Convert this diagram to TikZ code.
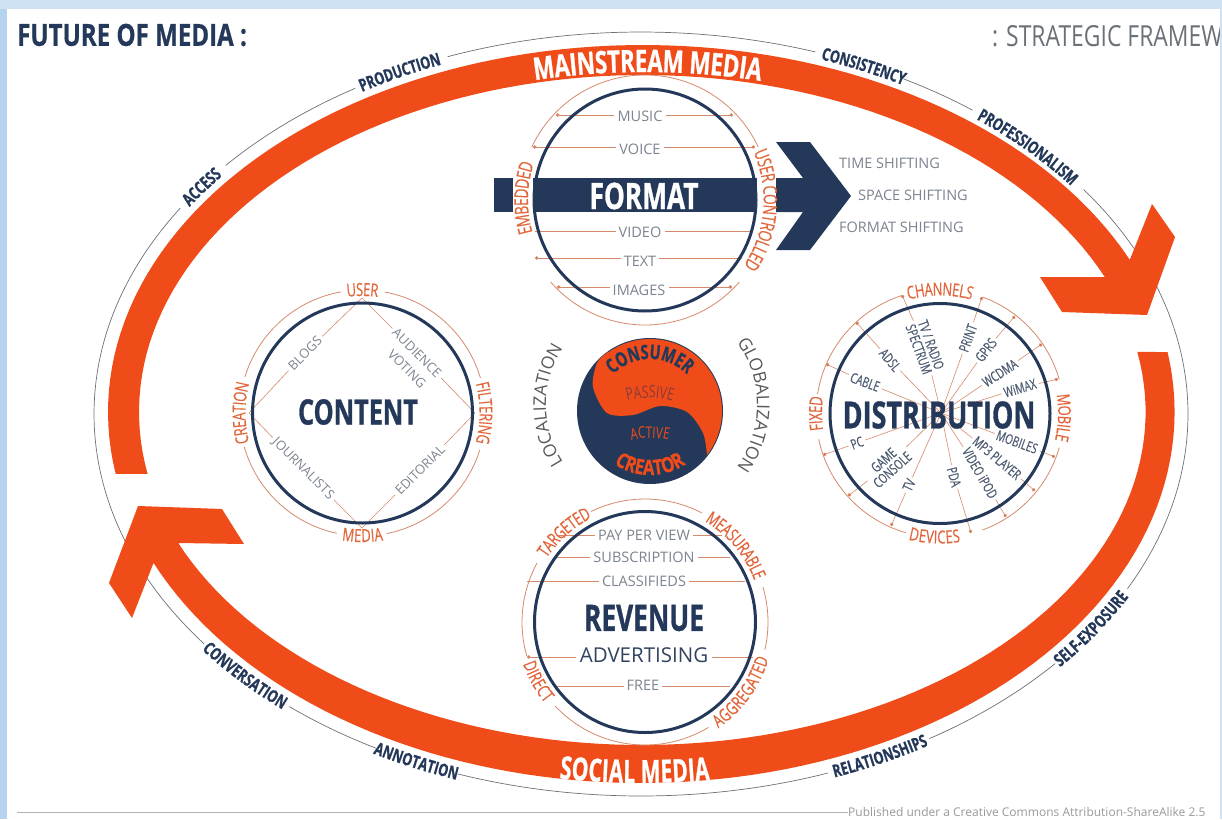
\documentclass[tikz,border=0pt]{standalone}
\usepackage{fontspec}
\usetikzlibrary{decorations.text,arrows.meta}
\setmainfont{Open Sans}
\newfontfamily\fcond[FakeStretch=0.72,BoldFeatures={FakeBold=0.8}]{Open Sans}
\newfontfamily\fmed[FakeStretch=0.72,FakeBold=0.35]{Open Sans}
\newfontfamily\fwide[FakeStretch=0.79,BoldFeatures={FakeBold=0.6}]{Open Sans}
\newfontfamily\fnarrow[FakeStretch=0.65,BoldFeatures={FakeBold=0.8}]{Open Sans}
\definecolor{cNavy}{HTML}{24385A}
\definecolor{cBand}{HTML}{F04C19}
\definecolor{cOr}{HTML}{E2663B}
\definecolor{cTan}{HTML}{D68A6C}
\definecolor{cGray}{HTML}{7C8490}
\definecolor{cSpoke}{HTML}{4F5D73}
\definecolor{cRim}{HTML}{6B7178}
\definecolor{cSkyA}{HTML}{CFE2F3}
\definecolor{cSkyB}{HTML}{B5D2EE}
\definecolor{cPass}{HTML}{8A3B3A}
\newcommand\fOuter{\fcond\bfseries\fontsize{17.5}{17.5}\selectfont\color{cNavy}}
\newcommand\fLab{\fmed\fontsize{18}{18}\selectfont\color{cOr}}
\newcommand\fLabB{\fmed\fontsize{19}{19}\selectfont\color{cOr}}
\newcommand\fBand{\fcond\bfseries\fontsize{31}{31}\selectfont\color{white}}
\newcommand\fBandS{\fnarrow\bfseries\fontsize{32}{32}\selectfont\color{white}}
\newcommand\fCons{\fcond\bfseries\fontsize{20}{20}\selectfont\color{cNavy}}
\newcommand\fCrea{\fwide\bfseries\fontsize{21}{21}\selectfont\color{cBand}}
\newcommand\fPass{\fcond\fontsize{17}{17}\selectfont\color{cPass}}
\newcommand\fActv{\fcond\fontsize{16}{16}\selectfont\color{cBand}}
\newcommand\fGlob{\normalfont\fontsize{17.5}{17.5}\selectfont\color{black!65}}
% \curvecw / \curveccw : {cx}{cy}{rx}{ry}{centre angle}{half span}{raise}{font}{text}
\newcommand\curvecw[9]{\path[decorate,decoration={text along path,text align=center,raise=#7,text={|#8|#9}}]
  ({#1+#3*cos((#5)-(#6))},{#2+#4*sin((#5)-(#6))}) arc[start angle={(#5)-(#6)},end angle={(#5)+(#6)},x radius=#3,y radius=#4];}
\newcommand\curveccw[9]{\path[decorate,decoration={text along path,text align=center,raise=#7,text={|#8|#9}}]
  ({#1+#3*cos((#5)+(#6))},{#2+#4*sin((#5)+(#6))}) arc[start angle={(#5)+(#6)},end angle={(#5)-(#6)},x radius=#3,y radius=#4];}
% \ringarc[style]{cx}{cy}{rx}{ry}{from}{to}
\newcommand\ringarc[7][]{\draw[#1] ({#2+#4*cos(#6)},{#3+#5*sin(#6)}) arc[start angle=#6,end angle=#7,x radius=#4,y radius=#5];}
\tikzset{
  x=1pt,y=-1pt,
  rimline/.style={draw=cRim,line width=.7pt},
  tanline/.style={draw=cTan,line width=.8pt},
  darkring/.style={draw=cNavy,line width=3pt},
  dotted end/.style={-{Circle[length=3.5pt,fill=cOr]}},
  grayl/.style={font=\normalfont\fontsize{14.5}{14.5}\selectfont,text=cGray,inner sep=3pt},
  diag/.style={font=\normalfont\fontsize{13}{13}\selectfont,text=cGray,inner sep=3pt},
  spokel/.style={font=\fmed\fontsize{14}{13}\selectfont,text=cSpoke,inner sep=2.5pt,align=center},
  hugeb/.style={font=\fcond\bfseries\fontsize{36.5}{36.5}\selectfont,text=cNavy,inner sep=0pt},
}
% horizontal line through a label: \hbarlabel{id}{x,y}{xl}{xr}{yline}{text}{end style}
\newcommand\hbarlabel[7]{
  \coordinate (#1L) at (#3,#5);
  \coordinate (#1R) at (#4,#5);
  \node[grayl] (#1) at (#2) {#6};
  \draw[tanline,#7] (#1.west |- #1L) -- (#1L);
  \draw[tanline,#7] (#1.east |- #1R) -- (#1R);
}
\newcommand\spoke[5]{
  \coordinate (o#1) at (#2);
  \node[spokel,rotate=#4] (l#1) at (#3) {#5};
  \draw[tanline,line width=.6pt] (l#1) -- (dhub);
  \draw[tanline,line width=.6pt,dotted end] (l#1) -- (o#1);
}
\begin{document}
\begin{tikzpicture}
\useasboundingbox (0,0) rectangle (1222,819);
\clip (0,0) rectangle (1222,819);
\fill[cSkyA] (0,0) rectangle (1222,819);
\fill[cSkyB] (0,9) rectangle (7,819);
\fill[white] (7,9) rectangle (1220,819);

% thin outer ellipse, broken at its labels
\ringarc[rimline]{641}{414}{547}{382}{143}{212.6}
\ringarc[rimline]{641}{414}{547}{382}{220.6}{238.5}
\ringarc[rimline]{641}{414}{547}{382}{249.3}{288.6}
\ringarc[rimline]{641}{414}{547}{382}{298.7}{307.3}
\ringarc[rimline]{641}{414}{547}{382}{324}{387.2}
\ringarc[rimline]{641}{414}{547}{382}{40.8}{58.2}
\ringarc[rimline]{641}{414}{547}{382}{70}{109.6}
\ringarc[rimline]{641}{414}{547}{382}{119}{130}

% the two great orange arrows
\fill[cBand] plot[domain=170.3:335.5,samples=90] ({643+535*cos(\x)},{412+367*sin(\x)})
  -- (1152,204) -- (1175,237) -- (1147,315) -- (1062,312) -- (1040,277) -- (1105,277)
  -- plot[domain=336.4:169.4,samples=90] ({643+504*cos(\x)},{412+337*sin(\x)}) -- cycle;
\fill[cBand] plot[domain=-9.3:156,samples=90] ({641+533.6*cos(\x)},{412+371*sin(\x)})
  -- (132,618) -- (109,583) -- (138,506) -- (222,509) -- (244,544) -- (178,543)
  -- plot[domain=156.9:-10.4,samples=90] ({641.6+504*cos(\x)},{412+333*sin(\x)}) -- cycle;

\curvecw{645}{412}{519}{351}{-89.7}{20}{-11pt}{\fBand}{MAINSTREAM MEDIA}
\curveccw{641}{412}{519}{352}{90.7}{15}{-19pt}{\fBandS}{SOCIAL MEDIA}

% outer labels
\curvecw{641}{414}{547}{382}{215.3}{20}{-6pt}{\fOuter}{ACCESS}
\curvecw{641}{414}{547}{382}{243}{20}{-6pt}{\fOuter}{PRODUCTION}
\curvecw{641}{414}{547}{382}{294.8}{20}{-6pt}{\fOuter}{CONSISTENCY}
\curvecw{641}{414}{547}{382}{317}{25}{-6pt}{\fOuter}{PROFESSIONALISM}
\curveccw{641}{414}{547}{382}{33.2}{20}{-6pt}{\fOuter}{SELF-EXPOSURE}
\curveccw{641}{414}{547}{382}{63.3}{20}{-6pt}{\fOuter}{RELATIONSHIPS}
\curveccw{641}{414}{547}{382}{115}{20}{-6pt}{\fOuter}{ANNOTATION}
\curveccw{641}{414}{547}{382}{137.7}{20}{-6pt}{\fOuter}{CONVERSATION}

% titles and footer
\node[anchor=west,font=\fwide\bfseries\fontsize{30.5}{30.5}\selectfont,text=cNavy,inner sep=0pt] (title) at (17,35) {FUTURE OF MEDIA :};
\node[anchor=west,font=\fwide\fontsize{29}{29}\selectfont,text=cRim,inner sep=0pt] (subtitle) at (992,36) {: STRATEGIC FRAMEW};
\fill[cSkyA] (1220,0) rectangle (1222,819);
\node[anchor=west,font=\normalfont\fontsize{12}{12}\selectfont,text=black!40,inner sep=0pt] (credit) at (848,812) {Published under a Creative Commons Attribution-ShareAlike 2.5};
\coordinate (ruleL) at (17,812);
\draw[black!30,line width=.8pt] (ruleL) -- (credit.west);

% ---------- FORMAT ----------
\ringarc[tanline]{645}{200}{125}{125}{-25}{-155}
\ringarc[tanline]{645}{200}{125}{125}{41}{139}
\hbarlabel{music}{640,116}{556}{733}{115}{MUSIC}{dotted end}
\hbarlabel{voice}{640,149}{533}{755}{147}{VOICE}{dotted end}
\hbarlabel{video}{640,232}{535}{752}{231}{VIDEO}{}
\hbarlabel{text}{640,261}{535}{742}{258}{TEXT}{dotted end}
\hbarlabel{images}{639,290}{557}{732}{287}{IMAGES}{dotted end}
\fill[cNavy] (494,178) rectangle (513,212);
\fill[cNavy] (533,178) rectangle (757,212);
\fill[cNavy] (776,178) -- (803,178) -- (776,142) -- (810,142) -- (851,196) -- (810,250) -- (776,250) -- (803,212) -- (776,212) -- cycle;
\draw[darkring] (645,200) circle[radius=111];
\node[hugeb,text=white] (format) at (644,196) {FORMAT};
\curvecw{645}{200}{125}{125}{181}{70}{-8pt}{\fLabB}{EMBEDDED}
\curvecw{645}{200}{125}{125}{5}{70}{-6.5pt}{\fLabB}{USER CONTROLLED}
\node[grayl,anchor=west,inner sep=0pt] (tshift) at (839,163) {TIME SHIFTING};
\node[grayl,anchor=west,inner sep=0pt] (sshift) at (858,195) {SPACE SHIFTING};
\node[grayl,anchor=west,inner sep=0pt] (fshift) at (839,227) {FORMAT SHIFTING};

% ---------- CONTENT ----------
\ringarc[tanline]{362.5}{413}{123}{123}{-79.6}{-16.6}
\ringarc[tanline]{362.5}{413}{123}{123}{17.5}{78.7}
\ringarc[tanline]{362.5}{413}{123}{123}{102}{164}
\ringarc[tanline]{362.5}{413}{123}{123}{197}{260}
\coordinate (ctop) at (362,298);
\coordinate (cright) at (475,413);
\coordinate (cbot) at (362,528);
\coordinate (cleft) at (249,413);
\node[diag,rotate=45] (blogs) at (305,353) {BLOGS};
\node[diag,rotate=-45] (audience) at (417,353) {AUDIENCE};
\node[diag,rotate=-45] (voting) at (407,369) {VOTING};
\node[diag,rotate=-45] (journal) at (303,469) {JOURNALISTS};
\node[diag,rotate=45] (editorial) at (420,470) {EDITORIAL};
\draw[tanline,line width=.6pt] (ctop) -- (blogs) -- (cleft);
\draw[tanline,line width=.6pt] (ctop) -- (audience) -- (cright);
\draw[tanline,line width=.6pt] (cleft) -- (journal) -- (cbot);
\draw[tanline,line width=.6pt] (cright) -- (editorial) -- (cbot);
\draw[darkring] (362.5,413) circle[radius=110];
\node[hugeb,font=\fcond\bfseries\fontsize{35}{35}\selectfont] (content) at (358,412) {CONTENT};
\curvecw{362.5}{413}{123}{123}{-90}{70}{-6pt}{\fLab}{USER}
\curveccw{362.5}{413}{123}{123}{90}{70}{-6pt}{\fLab}{MEDIA}
\curvecw{362.5}{413}{123}{123}{180}{70}{-6pt}{\fLab}{CREATION}
\curvecw{362.5}{413}{123}{123}{0}{70}{-6pt}{\fLab}{FILTERING}

% ---------- centre disc ----------
\fill[cNavy] (650,411) circle[radius=73];
\fill[cBand] ({650+72*cos(37.7)},{411+72*sin(37.7)}) arc[start angle=37.7,end angle=-125,x radius=72,y radius=72]
  -- plot[smooth] coordinates {(608,352) (597,363) (593,387) (607,413) (633,415) (660,406) (687,412) (703,433) (707,455)} -- cycle;
\curvecw{650}{411}{52}{52}{-90}{85}{0pt}{\fCons}{CONSUMER}
\curveccw{650}{411}{64}{64}{90}{85}{0pt}{\fCrea}{CREATOR}
\curvecw{650}{490}{92}{92}{-90}{50}{0pt}{\fPass}{PASSIVE}
\curvecw{650}{520}{82}{82}{-90}{50}{0pt}{\fActv}{ACTIVE}
\curvecw{650}{405}{104}{104}{180}{80}{0pt}{\fGlob}{LOCALIZATION}
\curvecw{650}{405}{107}{107}{0}{85}{0pt}{\fGlob}{GLOBALIZATION}

% ---------- REVENUE ----------
\ringarc[tanline]{645}{622}{123}{123}{244}{297.4}
\ringarc[tanline]{645}{622}{123}{123}{-16.5}{13}
\ringarc[tanline]{645}{622}{123}{123}{59}{137}
\ringarc[tanline]{645}{622}{123}{123}{164}{208.6}
\hbarlabel{ppv}{644,535}{558}{722}{535}{PAY PER VIEW}{}
\hbarlabel{subs}{644,557}{557}{730}{557}{SUBSCRIPTION}{}
\hbarlabel{class}{644,581}{527}{745}{581}{CLASSIFIEDS}{}
\coordinate (advL) at (527,657);
\coordinate (advR) at (753,657);
\node[font=\normalfont\fontsize{20.5}{20.5}\selectfont,text=cNavy!85!gray,inner sep=4pt] (adv) at (644,655) {ADVERTISING};
\draw[tanline,dotted end] (adv.west |- advL) -- (advL);
\draw[tanline] (adv.east |- advR) -- (advR);
\hbarlabel{free}{643,685}{557}{730}{686}{FREE}{}
\draw[darkring] (645,622) circle[radius=110.5];
\node[hugeb] (revenue) at (644,618) {REVENUE};
\curvecw{645}{622}{123}{123}{228}{70}{-6pt}{\fLab}{TARGETED}
\curvecw{645}{622}{123}{123}{-40}{70}{-6pt}{\fLab}{MEASURABLE}
\curveccw{645}{622}{123}{123}{36}{70}{-6pt}{\fLab}{AGGREGATED}
\curveccw{645}{622}{123}{123}{151}{70}{-6pt}{\fLab}{DIRECT}

% ---------- DISTRIBUTION ----------
\coordinate (dhub) at (941,413);
\ringarc[tanline]{940}{413.5}{124}{124}{252}{189}
\ringarc[tanline]{940}{413.5}{124}{124}{168}{106}
\ringarc[tanline]{940}{413.5}{124}{124}{70}{16}
\ringarc[tanline]{940}{413.5}{124}{124}{-70}{-16}
\spoke{tvr}{902,295}{925,347}{-70}{TV / RADIO\\SPECTRUM}
\spoke{adsl}{856,322}{890,360}{-50}{ADSL}
\spoke{cable}{826,364}{865,382}{-20}{CABLE}
\spoke{pc}{823,455}{857,443}{20}{PC}
\spoke{game}{848,496}{888,465}{42}{GAME\\CONSOLE}
\spoke{tv}{891,526}{909,485}{65}{TV}
\spoke{pda}{971,533}{954,477}{-75}{PDA}
\spoke{ipod}{1006,517}{980,473}{-60}{VIDEO iPOD}
\spoke{mp3}{1035,491}{997,458}{-40}{MP3 PLAYER}
\spoke{mobiles}{1055,457}{1017,442}{-20}{MOBILES}
\spoke{wimax}{1058,379}{1020,388}{17}{WiMAX}
\spoke{wcdma}{1042,344}{1000,373}{33}{WCDMA}
\spoke{gprs}{1015,316}{986,350}{52}{GPRS}
\spoke{print}{982,297}{968,338}{70}{PRINT}
\draw[darkring] (940,413.5) circle[radius=110];
\node[hugeb,font=\fcond\bfseries\fontsize{37.5}{37.5}\selectfont] (distribution) at (939,415) {DISTRIBUTION};
\curvecw{940}{413.5}{124}{124}{-90}{70}{-6pt}{\fLab}{CHANNELS}
\curveccw{940}{413.5}{124}{124}{92.5}{70}{-6pt}{\fLab}{DEVICES}
\curvecw{940}{413.5}{124}{124}{180}{70}{-6pt}{\fLab}{FIXED}
\curvecw{940}{413.5}{124}{124}{2}{70}{-6pt}{\fLab}{MOBILE}
\end{tikzpicture}
\end{document}
